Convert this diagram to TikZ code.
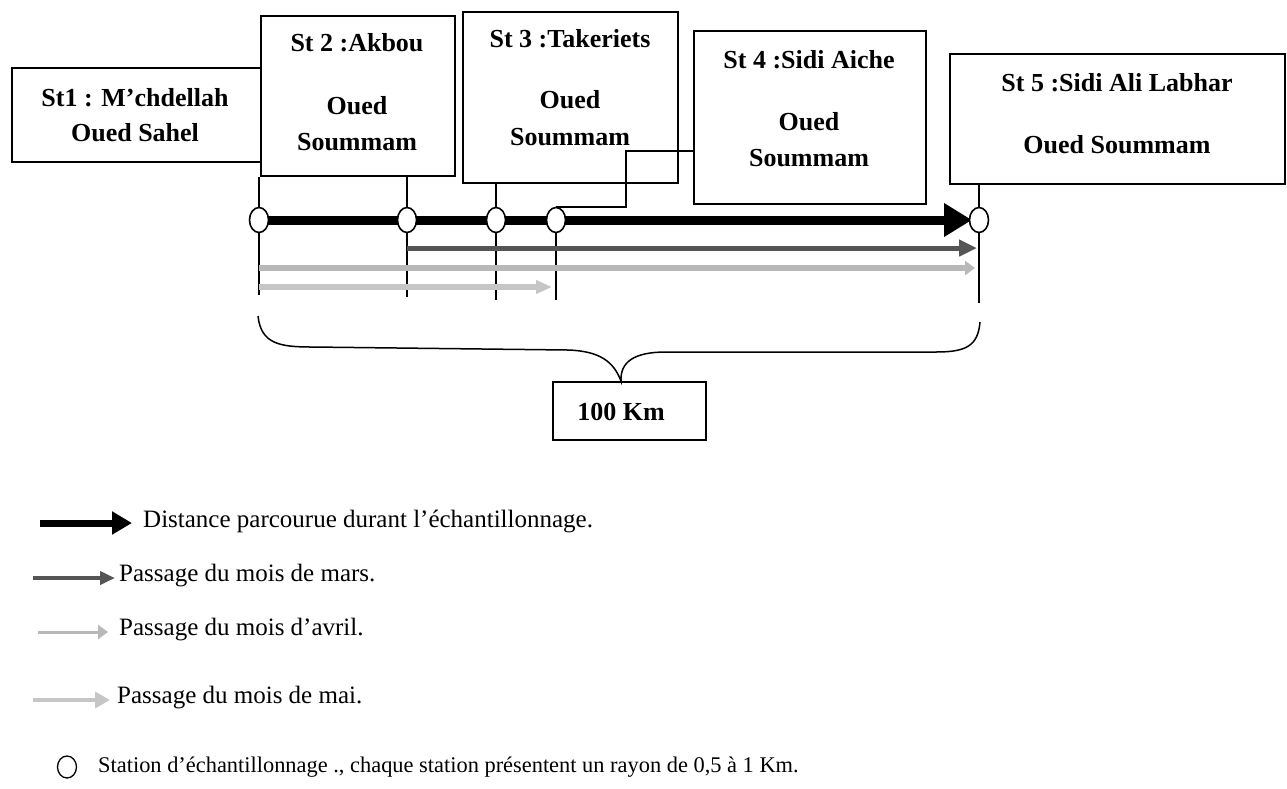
\documentclass[tikz,border=0pt]{standalone}
\usepackage{fontspec}
\setmainfont{Liberation Serif}
\usetikzlibrary{arrows.meta,shapes.geometric,calc}
\definecolor{marsc}{HTML}{555555}
\definecolor{avrc}{HTML}{B8B8B8}
\definecolor{maic}{HTML}{C6C6C6}
\begin{document}
\begin{tikzpicture}[x=1pt,y=-1pt,
  box/.style={draw, line width=2pt, fill=white, inner sep=0, anchor=north west},
  lbl/.style={font=\fontsize{26}{30}\selectfont\bfseries, inner sep=0},
  leg/.style={font=\fontsize{25}{30}\selectfont, anchor=west, inner sep=0},
  stn/.style={draw, line width=1.6pt, fill=white, ellipse, minimum width=19pt, minimum height=25pt, inner sep=0},
  vline/.style={line width=2.2pt},
  blackarrow/.style={line width=9pt, black, -{Triangle[length=28pt,width=32pt]}},
  marsarrow/.style={line width=5pt, marsc, -{Triangle[length=18pt,width=16pt]}},
  avrarrow/.style={line width=6pt, avrc, -{Triangle[length=10pt,width=14pt]}},
  maiarrow/.style={line width=6pt, maic, -{Triangle[length=16pt,width=13pt]}}
]
\useasboundingbox (0,0) rectangle (1287,788);

% station boxes
\node[box, minimum width=249pt, minimum height=94pt] (b1) at (11,67) {};
\node[box, minimum width=194pt, minimum height=160pt] (b2) at (260,15) {};
\node[box, minimum width=215pt, minimum height=171pt] (b3) at (462,11) {};
\node[box, minimum width=232pt, minimum height=173pt] (b4) at (693,30) {};
\node[box, minimum width=335pt, minimum height=130pt] (b5) at (949,53) {};

% box texts
\node[lbl] (t1a) at (135,98) {St1 : M’chdellah};
\node[lbl] (t1b) at (135,133) {Oued Sahel};
\node[lbl] (t2a) at (357,43) {St 2 :Akbou};
\node[lbl] (t2b) at (357,106) {Oued};
\node[lbl] (t2c) at (357,142) {Soummam};
\node[lbl] (t3a) at (570,39) {St 3 :Takeriets};
\node[lbl] (t3b) at (570,100) {Oued};
\node[lbl] (t3c) at (570,137) {Soummam};
\node[lbl] (t4a) at (809,60) {St 4 :Sidi Aiche};
\node[lbl] (t4b) at (809,122) {Oued};
\node[lbl] (t4c) at (809,158) {Soummam};
\node[lbl] (t5a) at (1117,83) {St 5 :Sidi Ali Labhar};
\node[lbl] (t5b) at (1117,145) {Oued Soummam};

% station positions
\coordinate (p1) at (259,220);
\coordinate (p2) at (407,220);
\coordinate (p3) at (496,220);
\coordinate (p4) at (556,220);
\coordinate (p5) at (979,220);

% vertical lines
\draw[vline] (p1 |- b2.south) -- ($(p1)+(0,75)$);
\draw[vline] (p2 |- b2.south) -- ($(p2)+(0,77)$);
\draw[vline] (p3 |- b3.south) -- ($(p3)+(0,80)$);
\draw[vline] (p4) -- ($(p4)+(0,80)$);
\draw[vline] (p5 |- b5.south) -- ($(p5)+(0,83)$);

% passage arrows
\draw[maiarrow] ($(p1)+(0,67)$) -- ($(p4)+(-4,67)$);
\draw[avrarrow] ($(p1)+(0,48)$) -- ($(p5)+(-4,48)$);
\draw[marsarrow] ($(p2)+(0,28)$) -- ($(p5)+(-2,28)$);
\draw[blackarrow] (p1) -- ($(p5)+(-7,0)$);

% stations
\node[stn] (c1) at (p1) {};
\node[stn] (c2) at (p2) {};
\node[stn] (c3) at (p3) {};
\node[stn] (c4) at (p4) {};
\node[stn] (c5) at (p5) {};

% connector St4 to its station
\coordinate (k) at (626,151);
\draw[vline] (c4.north) -| (k) -- (k -| b4.west);

% brace and distance
\node[draw, line width=1.6pt, minimum width=153pt, minimum height=58pt, inner sep=0] (km) at (629.5,411) {};
\node[lbl] (kmt) at (621,412) {100 Km};
\draw[line width=1.5pt] (258,316) .. controls (261,344) and (280,347) .. (312,347)
  -- (568,350) .. controls (600,351) and (614,362) .. (km.north -| kmt)
  .. controls (620,362) and (634,352) .. (666,352)
  -- (936,352) .. controls (966,352) and (978,346) .. (980,322);

% legend
\coordinate (l1a) at (40,523); \coordinate (l1b) at (132,523);
\draw[line width=7pt, black, -{Triangle[length=20pt,width=22pt]}] (l1a) -- (l1b);
\node[leg] (lt1) at (143,521) {Distance parcourue durant l’échantillonnage.};

\coordinate (l2a) at (33,578); \coordinate (l2b) at (115,578);
\draw[line width=4pt, marsc, -{Triangle[length=15pt,width=13pt]}] (l2a) -- (l2b);
\node[leg] (lt2) at (119,576) {Passage du mois de mars.};

\coordinate (l3a) at (38,632); \coordinate (l3b) at (108,632);
\draw[line width=3pt, avrc, -{Triangle[length=10pt,width=14pt]}] (l3a) -- (l3b);
\node[leg] (lt3) at (119,630) {Passage du mois d’avril.};

\coordinate (l4a) at (33,700); \coordinate (l4b) at (110,700);
\draw[line width=4pt, maic, -{Triangle[length=15pt,width=16pt]}] (l4a) -- (l4b);
\node[leg] (lt4) at (117,698) {Passage du mois de mai.};

\node[draw, line width=1.3pt, ellipse, minimum width=19pt, minimum height=22pt, inner sep=0] (lc) at (67,767) {};
\node[leg, font=\fontsize{22.4}{27}\selectfont] (lt5) at (98,767) {Station d’échantillonnage ., chaque station présentent un rayon de 0,5 à 1 Km.};
\end{tikzpicture}
\end{document}
